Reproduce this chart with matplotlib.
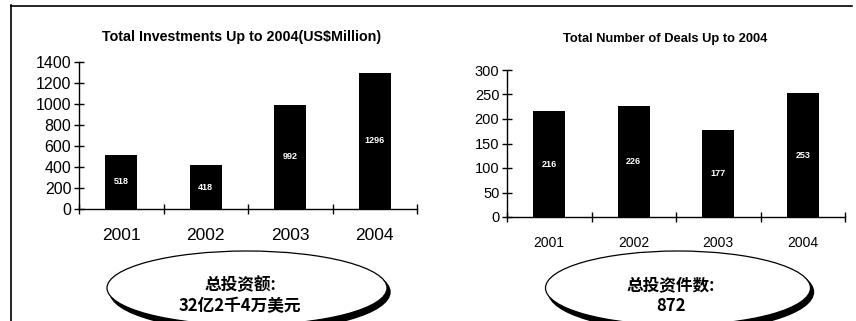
import matplotlib.pyplot as plt
from matplotlib.patches import Ellipse
from matplotlib.lines import Line2D

years = ['2001', '2002', '2003', '2004']
investments = [518, 418, 992, 1296]
deals = [216, 226, 177, 253]

titulo_inv = 'Total Investments Up to 2004(US$Million)'
titulo_deals = 'Total Number of Deals Up to 2004'
nota_inv = ['总投资额:', '32亿2千4万美元']
nota_deals = ['总投资件数:', '872']

narrow = ['Liberation Sans Narrow', 'Liberation Sans', 'DejaVu Sans']
arial = ['Liberation Sans', 'DejaVu Sans']
cjk = ['Noto Sans CJK SC', 'DejaVu Sans']

fig = plt.figure(figsize=(8.56, 3.21), dpi=100)
W, H = 856, 321


def fx(px):
    return px / W


def fy(py):
    return 1 - py / H


def panel(rect, valores, ymax, ystep, fam, tick_fs, xlab_fs):
    ax = fig.add_axes(rect)
    x = list(range(len(years)))
    ax.bar(x, valores, width=0.38, color='black', zorder=2)
    for xi, v in zip(x, valores):
        ax.text(xi, v / 2, str(v), color='white', ha='center', va='center',
                fontsize=6.5, fontweight='bold', family=fam)
    ax.set_xlim(-0.5, len(years) - 0.5)
    ax.set_ylim(0, ymax)
    ax.set_yticks(range(0, ymax + 1, ystep))
    ax.set_xticks([i - 0.5 for i in range(len(years) + 1)])
    ax.set_xticklabels([])
    ax.set_xticks(x, minor=True)
    ax.set_xticklabels(years, minor=True)
    ax.tick_params(axis='x', which='minor', length=0, pad=14, labelsize=xlab_fs)
    ax.tick_params(axis='x', which='major', direction='inout', length=7, width=1)
    ax.tick_params(axis='y', direction='inout', length=7, width=1, labelsize=tick_fs, pad=2)
    for lbl in ax.get_xticklabels(minor=True) + ax.get_yticklabels():
        lbl.set_family(fam)
    for s in ['top', 'right']:
        ax.spines[s].set_visible(False)
    ax.spines['left'].set_linewidth(1)
    ax.spines['bottom'].set_linewidth(1)
    ax.patch.set_alpha(0)
    return ax


ax1 = panel([fx(79), fy(209), fx(417 - 79), fy(62) - fy(209)],
            investments, 1400, 200, arial, 11.5, 12.5)
ax2 = panel([fx(507), fy(217), fx(845 - 507), fy(70) - fy(217)],
            deals, 300, 50, narrow, 10.5, 10)

fig.text(fx(242), fy(37), titulo_inv, ha='center', va='center',
         fontsize=10.3, fontweight='bold', family=arial)
fig.text(fx(665), fy(39), titulo_deals, ha='center', va='center',
         fontsize=9.3, fontweight='bold', family=narrow)

# marco
fig.add_artist(Line2D([fx(11), fx(11)], [fy(5), 0], color='black', lw=1.2))
fig.add_artist(Line2D([fx(11), fx(852)], [fy(6), fy(6)], color='black', lw=1.2))

# elipses con sombra
for cx, ancho, nota in [(247, 280, nota_inv), (678, 265, nota_deals)]:
    sombra = Ellipse((fx(cx + 3), fy(292)), fx(ancho), 78 / H,
                     facecolor='black', edgecolor='black', lw=1,
                     transform=fig.transFigure)
    fig.add_artist(sombra)
    elipse = Ellipse((fx(cx), fy(288)), fx(ancho), 74 / H,
                     facecolor='white', edgecolor='black', lw=0.9,
                     transform=fig.transFigure)
    fig.add_artist(elipse)
    fig.text(fx(cx - 7), fy(285), nota[0], ha='center', va='center',
             fontsize=12, fontweight='bold', family=cjk)
    fig.text(fx(cx - 7), fy(306), nota[1], ha='center', va='center',
             fontsize=12, fontweight='bold', family=cjk)

fig.savefig('out.png', dpi=100)
